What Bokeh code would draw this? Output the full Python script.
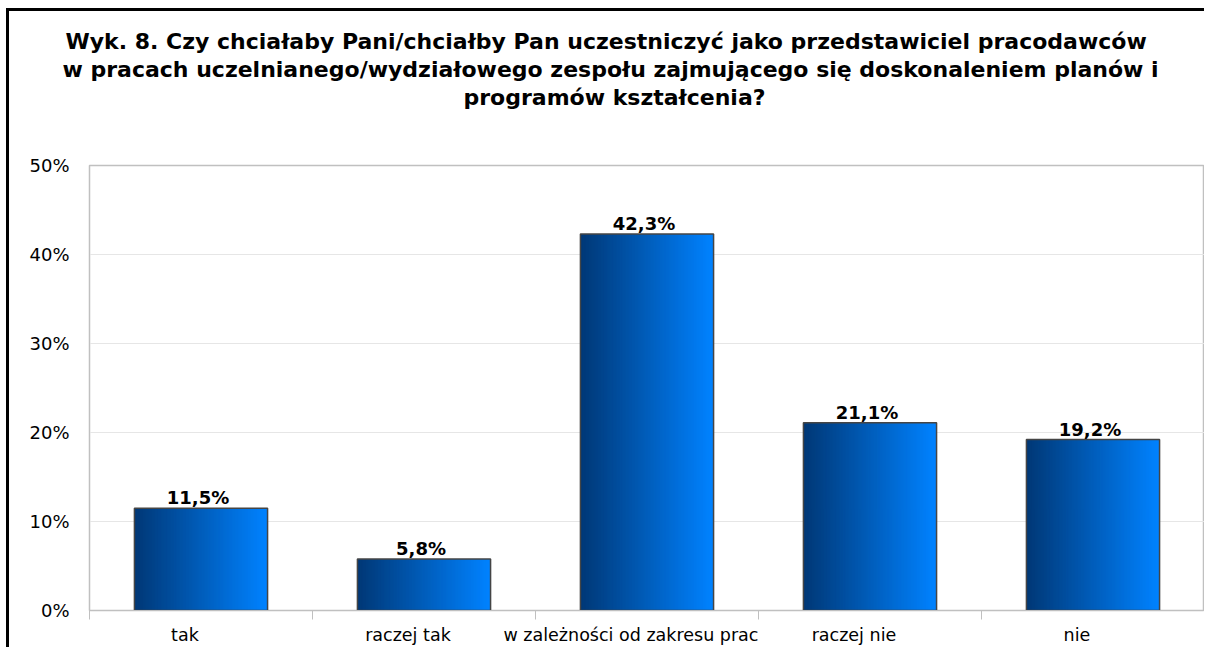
from bokeh.plotting import figure
from bokeh.models import FixedTicker, PrintfTickFormatter, Range1d, ColumnDataSource, Title
from bokeh.core.properties import value
from bokeh.embed import file_html
from bokeh.resources import INLINE

categories = ["tak", "raczej tak", "w zależności od zakresu prac", "raczej nie", "nie"]
values = [11.5, 5.8, 42.3, 21.1, 19.2]
y_ticks = [0, 10, 20, 30, 40, 50]
title_lines = ["Wyk. 8. Czy chciałaby Pani/chciałby Pan uczestniczyć jako przedstawiciel pracodawców",
               "w pracach uczelnianego/wydziałowego zespołu zajmującego się doskonaleniem planów i",
               "programów kształcenia?"]

BAR_W = 0.597
N_STRIPS = 90
LABEL_SHIFT = -0.072
C0 = (0, 56, 118)
C1 = (0, 130, 255)
TITLE_OFFSETS = [-24, -27, 374]

p = figure(width=1204, height=647, output_backend="svg", toolbar_location=None, title=None,
           x_range=Range1d(0, len(categories)), y_range=Range1d(0, 50),
           min_border_left=89, min_border_right=0, min_border_top=165, min_border_bottom=30)
p.border_fill_color = None
p.background_fill_color = "white"
p.styles = {
    "background": ("linear-gradient(#000, #000) 6px 8px / 3px 100% no-repeat, "
                   "linear-gradient(#000, #000) 6px 8px / 100% 3px no-repeat, #fff"),
}

# spacer nearest to the frame, then title lines outward
p.add_layout(Title(text=" ", text_font="DejaVu Sans", text_font_size="21.5px", standoff=28), "above")
for line, off in reversed(list(zip(title_lines, TITLE_OFFSETS))):
    p.add_layout(Title(text=line, align="left", offset=off, text_font="DejaVu Sans",
                       text_font_size="22px", text_font_style="bold", text_color="black",
                       standoff=1), "above")

# gradient strips
xs, tops, cols = [], [], []
sw = BAR_W / N_STRIPS
for i, v in enumerate(values):
    left = i + 0.5 - BAR_W / 2
    for k in range(N_STRIPS):
        t = k / (N_STRIPS - 1)
        c = tuple(int(round(C0[j] + (C1[j] - C0[j]) * t)) for j in range(3))
        xs.append(left + (k + 0.5) * sw)
        tops.append(v)
        cols.append("#%02x%02x%02x" % c)
strip_src = ColumnDataSource(dict(x=xs, top=tops, color=cols))
p.vbar(x="x", top="top", width=sw * 1.6, bottom=0, source=strip_src,
       fill_color="color", line_color=None)

centers = [i + 0.5 for i in range(len(categories))]
bar_src = ColumnDataSource(dict(x=centers, top=values,
                                label=[f"{v:.1f}".replace(".", ",") + "%" for v in values]))
p.vbar(x="x", top="top", width=BAR_W, bottom=0, source=bar_src,
       fill_color=None, line_color="#454545", line_width=1.5)
p.text(x="x", y="top", text="label", source=bar_src, text_align="center",
       text_baseline="bottom", y_offset=0, x_offset=-3, text_font=value("DejaVu Sans"),
       text_font_size="18px", text_font_style="bold", text_color="black")

# axes
p.xaxis.ticker = FixedTicker(ticks=[c + LABEL_SHIFT for c in centers],
                             minor_ticks=list(range(len(categories) + 1)))
p.xaxis.major_label_overrides = {c + LABEL_SHIFT: n for c, n in zip(centers, categories)}
p.xaxis.major_tick_out = 0
p.xaxis.major_tick_in = 0
p.xaxis.minor_tick_out = 9
p.xaxis.minor_tick_in = 0
p.xaxis.minor_tick_line_color = "#c0c0c0"
p.xaxis.axis_line_color = "#c0c0c0"
p.xaxis.major_label_standoff = 5
p.xaxis.major_label_text_font = "DejaVu Sans"
p.xaxis.major_label_text_font_size = "17.5px"
p.xaxis.major_label_text_color = "black"

p.yaxis.ticker = FixedTicker(ticks=y_ticks, minor_ticks=[])
p.yaxis.formatter = PrintfTickFormatter(format="%d%%")
p.yaxis.major_tick_out = 0
p.yaxis.major_tick_in = 0
p.yaxis.axis_line_color = "#c0c0c0"
p.yaxis.major_label_standoff = 20
p.yaxis.major_label_text_font = "DejaVu Sans"
p.yaxis.major_label_text_font_size = "18px"
p.yaxis.major_label_text_color = "black"

p.xgrid.grid_line_color = None
p.ygrid.ticker = FixedTicker(ticks=y_ticks)
p.ygrid.grid_line_color = "#e6e6e6"
p.outline_line_color = "#c0c0c0"
p.outline_line_width = 1.5

open("out.html", "w").write(file_html(p, INLINE))
